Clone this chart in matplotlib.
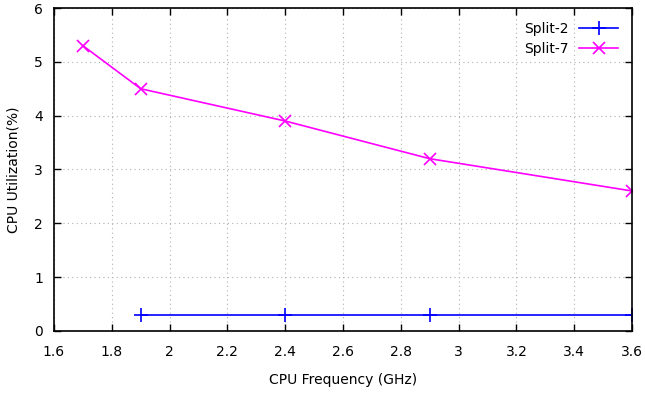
import matplotlib.pyplot as plt


freq_split2 = [1.9, 2.4, 2.9, 3.6]
cpu_split2 = [0.3, 0.3, 0.3, 0.3]

freq_split7 = [1.7, 1.9, 2.4, 2.9, 3.6]
cpu_split7 = [5.3, 4.5, 3.9, 3.2, 2.6]

x_ticks = [1.6, 1.8, 2.0, 2.2, 2.4, 2.6, 2.8, 3.0, 3.2, 3.4, 3.6]
x_labels = ["1.6", "1.8", "2", "2.2", "2.4", "2.6", "2.8", "3", "3.2", "3.4", "3.6"]
y_ticks = [0, 1, 2, 3, 4, 5, 6]


plt.rcParams["font.family"] = ["DejaVu Sans"]
plt.rcParams["font.size"] = 10

fig = plt.figure(figsize=(6.45, 3.93), dpi=100)
ax = fig.add_axes([0.0837, 0.158, 0.8963, 0.8216])

ax.plot(
    freq_split2, cpu_split2,
    color="#0000ff", marker="+", markersize=10, markeredgewidth=1.2,
    linewidth=1.2, label="Split-2"
)
ax.plot(
    freq_split7, cpu_split7,
    color="#ff00ff", marker="x", markersize=9, markeredgewidth=1.2,
    linewidth=1.2, label="Split-7"
)

ax.set_xlim(1.6, 3.6)
ax.set_ylim(0, 6)
ax.set_xticks(x_ticks)
ax.set_xticklabels(x_labels)
ax.set_yticks(y_ticks)

ax.grid(True, color="#b0b0b0", linestyle=(0, (1, 3)), linewidth=0.8)
ax.tick_params(direction="in", top=True, right=True, length=5, width=1,
               colors="black")
ax.tick_params(axis="x", pad=10)
ax.tick_params(axis="y", pad=8)
for spine in ax.spines.values():
    spine.set_linewidth(1.2)

ax.set_xlabel("CPU Frequency (GHz)", labelpad=10)
ax.set_ylabel("CPU Utilization(%)", labelpad=10)

ax.legend(
    loc="upper right", frameon=False, markerfirst=False,
    handlelength=2.8, borderaxespad=0.6, labelspacing=0.45
)

fig.savefig("out.png", dpi=100)
plt.close(fig)
